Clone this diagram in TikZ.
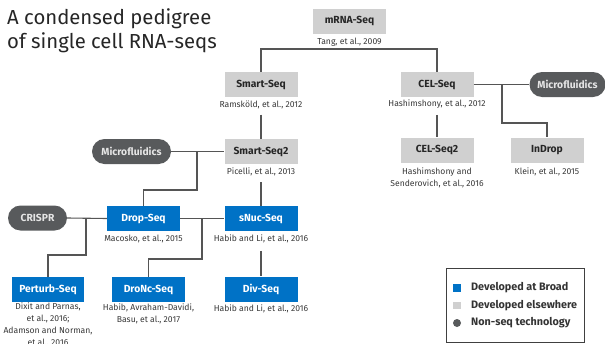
\documentclass[tikz,border=0pt]{standalone}
\usepackage{fontspec}
\setmainfont{Fira Sans}
\usetikzlibrary{positioning}
\definecolor{broadblue}{RGB}{0,114,198}
\definecolor{elsegray}{RGB}{208,208,208}
\definecolor{techgray}{RGB}{88,90,92}
\definecolor{linegray}{RGB}{85,85,85}
\definecolor{labeltext}{RGB}{55,55,55}
\tikzset{
  box/.style={rectangle, minimum width=73pt, minimum height=25pt, inner sep=0pt,
    font=\fontsize{10.3}{12}\selectfont\bfseries},
  broad/.style={box, fill=broadblue, text=white},
  elsewhere/.style={box, fill=elsegray, text=black!85},
  tech/.style={rectangle, rounded corners=12.5pt, minimum height=25pt, inner sep=0pt,
    fill=techgray, text=white!90!black, font=\fontsize{10.3}{12}\selectfont\bfseries},
  cite/.style={align=center, inner sep=0pt, text=labeltext,
    font=\fontsize{8.6}{11.8}\selectfont},
  link/.style={draw=linegray, line width=1.1pt},
  legtext/.style={anchor=west, inner sep=0pt, text=black!80,
    font=\fontsize{10.8}{12}\selectfont\bfseries},
}
\begin{document}
\begin{tikzpicture}[x=1pt, y=-1pt]
\useasboundingbox (0,0) rectangle (605,343);

% title
\node[anchor=north west, align=left, inner sep=0pt, text=black!85,
  font=\fontsize{20.3}{24}\selectfont] (title) at (7,8)
  {A condensed pedigree\\of single cell RNA-seqs};

% methods
\node[elsewhere] (mrna)   at (349.5,21)  {mRNA-Seq};
\node[elsewhere] (smart)  at (261,84.5)  {Smart-Seq};
\node[elsewhere] (cel)    at (437,84.5)  {CEL-Seq};
\node[elsewhere] (smart2) at (261,151.5) {Smart-Seq2};
\node[elsewhere] (cel2)   at (437,150)   {CEL-Seq2};
\node[elsewhere] (indrop) at (547,150)   {InDrop};
\node[broad]     (drop)   at (143.5,218.5) {Drop-Seq};
\node[broad]     (snuc)   at (261,218.5) {sNuc-Seq};
\node[broad, minimum width=72pt] (perturb) at (48,289.5) {Perturb-Seq};
\node[broad]     (dronc)  at (148.5,289.5) {DroNc-Seq};
\node[broad]     (div)    at (261,289)   {Div-Seq};

% non-seq technologies
\node[tech, minimum width=76pt] (mfr)    at (567.5,84.5)  {Microfluidics};
\node[tech, minimum width=79pt] (mfl)    at (131.5,151.5) {Microfluidics};
\node[tech, minimum width=59pt] (crispr) at (37.5,218)    {CRISPR};

% citations
\node[cite] (mrnaL)   at (349.5,42.5) {Tang, et al., 2009};
\node[cite] (smartL)  at (261,104.5)  {Ramsköld, et al., 2012};
\node[cite] (celL)    at (437,104.5)  {Hashimshony, et al., 2012};
\node[cite] (smart2L) at (261,172)    {Picelli, et al., 2013};
\node[cite] (cel2L)   at (437,177.5)  {Hashimshony and\\Senderovich, et al., 2016};
\node[cite] (indropL) at (547,171.5)  {Klein, et al., 2015};
\node[cite] (dropL)   at (143.5,238.5) {Macosko, et al., 2015};
\node[cite] (snucL)   at (261,238.5)  {Habib and Li, et al., 2016};
\node[cite, anchor=north] (perturbL) at (48,303)
  {Dixit and Parnas,\\et al., 2016;\\Adamson and Norman,\\et al., 2016};
\node[cite] (droncL)  at (148.5,314)  {Habib, Avraham-Davidi,\\Basu, et al., 2017};
\node[cite] (divL)    at (261,308.5)  {Habib and Li, et al., 2016};

% branch points
\coordinate (top)  at (349.5,49);
\coordinate (b1)   at (502,84.5);
\coordinate (k1)   at (502,123);
\coordinate (b2)   at (197,151.5);
\coordinate (k2)   at (197,190);
\coordinate (b3)   at (202,218.5);
\coordinate (k3)   at (202,259);
\coordinate (b4)   at (86,218.5);
\coordinate (k4)   at (86,255);

% connectors
\draw[link] (smart.north) |- (top) -| (cel.north);
\draw[link, shorten <=6pt] (smartL.south) -- (smart2.north);
\draw[link, shorten <=6pt] (celL.south) -- (cel2.north);
\draw[link] (cel.east) -- (mfr.west);
\draw[link] (b1) -- (k1) -| (indrop.north);
\draw[link] (mfl.east) -- (smart2.west);
\draw[link] (b2) -- (k2) -| (drop.north);
\draw[link, shorten <=6pt] (smart2L.south) -- (snuc.north);
\draw[link] (drop.east) -- (snuc.west);
\draw[link] (b3) -- (k3) -| (dronc.north);
\draw[link] (crispr.east) -- (drop.west);
\draw[link] (b4) -- (k4) -| (perturb.north);
\draw[link, shorten <=8pt] (snucL.south) -- (div.north);

% legend
\node[draw=black!75, line width=0.8pt, minimum width=138pt, minimum height=74pt,
  inner sep=0pt] (legend) at (515,305) {};
\node[fill=broadblue, minimum size=7.5pt, inner sep=0pt] (lgA) at (457,288) {};
\node[fill=elsegray, minimum size=7.5pt, inner sep=0pt] (lgB) at (457,305.5) {};
\node[circle, fill=techgray, minimum size=8pt, inner sep=0pt] (lgC) at (457,323) {};
\node[legtext] (lgAt) at (471,288)   {Developed at Broad};
\node[legtext] (lgBt) at (471,305.5) {Developed elsewhere};
\node[legtext] (lgCt) at (471,323)   {Non-seq technology};
\end{tikzpicture}
\end{document}
